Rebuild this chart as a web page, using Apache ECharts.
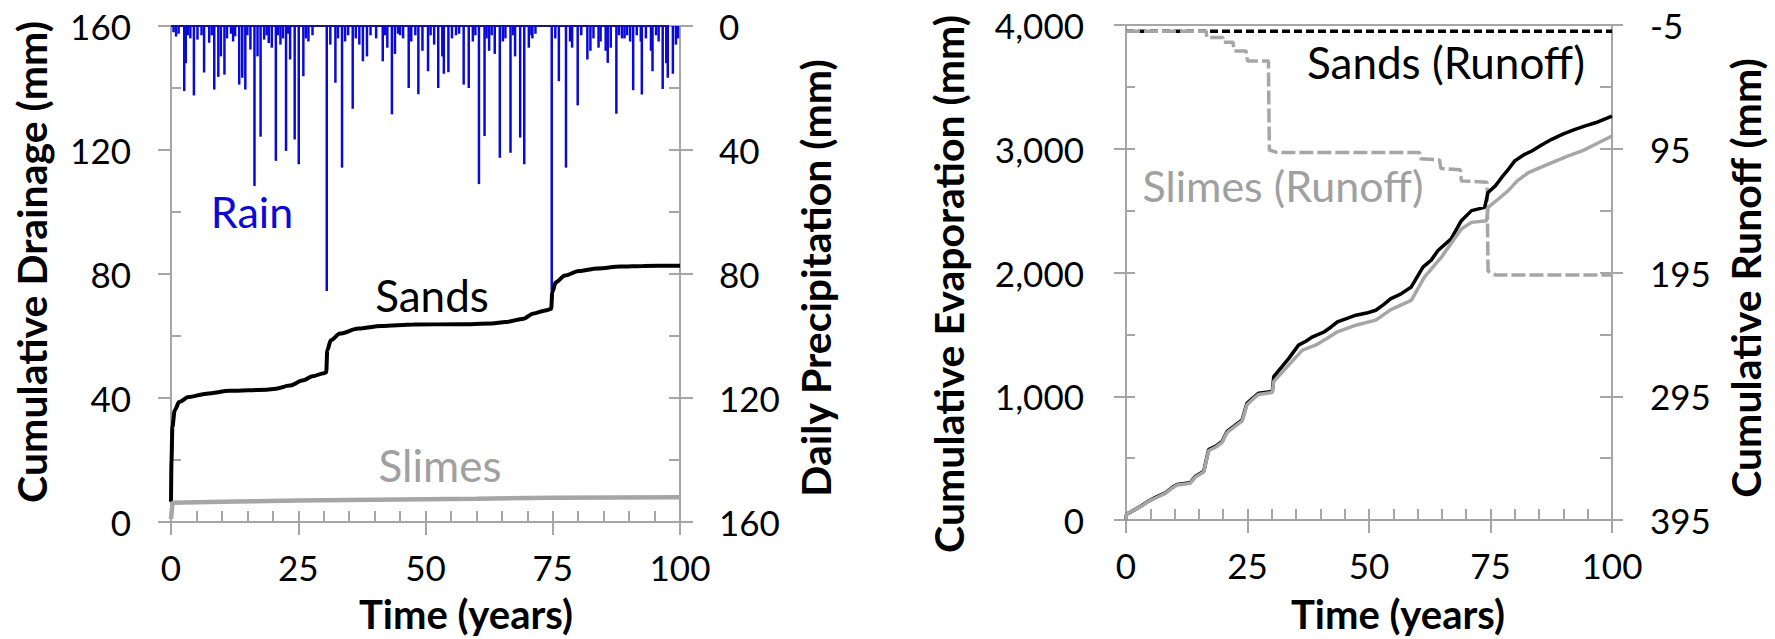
<!DOCTYPE html>
<html>
<head>
<meta charset="utf-8">
<script src="https://cdn.jsdelivr.net/npm/echarts@6/dist/echarts.min.js"></script>
<style>
html,body{margin:0;padding:0;background:#fff;}
#chart{width:1775px;height:639px;}
</style>
</head>
<body>
<div id="chart"></div>
<script>
// ---------- DATA ----------
const timeTicks = [0, 25, 50, 75, 100];
const drainageTicks = [0, 40, 80, 120, 160];
const precipTicks = [0, 40, 80, 120, 160];
const evapTicks = [0, 1000, 2000, 3000, 4000];
const runoffTicks = [-5, 95, 195, 295, 395];

// Daily precipitation spikes (years, mm)
const rainYears = [0.5,1.0,1.5,2.6,2.9,3.3,3.8,4.5,5.2,6.0,6.5,7.5,8.0,8.5,9.3,9.8,10.5,11.0,11.8,12.2,12.6,13.4,14.0,14.6,15.0,15.6,16.4,17.0,17.6,18.3,18.8,19.2,19.8,20.6,21.0,21.5,22.0,22.6,23.0,23.4,24.3,25.1,
  26.0,26.5,27.0,27.8,30.6,31.3,32.3,32.8,33.6,34.2,34.8,35.7,36.3,37.0,37.7,38.5,39.2,40.3,41.6,42.0,42.5,43.4,44.0,44.6,45.0,45.6,46.7,47.2,48.0,48.6,49.4,50.5,
  51.0,51.7,52.5,53.3,53.6,54.5,55.2,56.0,56.6,57.5,58.5,59.3,59.8,60.5,61.6,62.0,62.5,63.0,63.6,64.6,65.2,65.7,66.7,67.2,67.6,68.6,69.4,70.3,70.8,71.0,71.6,74.8,
  75.5,76.2,77.6,78.4,78.8,79.9,80.6,81.8,82.4,83.0,84.0,84.4,85.4,85.8,86.4,87.5,88.0,88.6,89.1,89.6,90.2,90.8,91.5,92.3,92.5,93.3,94.3,94.6,95.3,95.8,96.6,97.3,97.6,98.6,99.2,99.6];
const rainMm = [2,3.4,2.5,21,12,3,4,22.4,4.4,3,15,5.4,3,20.5,16.4,9.8,15.7,4,2.5,5,3.3,18.9,16.7,20.5,3,7.6,51.6,9.8,35.7,4.4,3,5.5,7,43.5,3,6,4,40.3,2.5,10.8,36.6,44.6,
  16.2,4,5,3,85.5,6,18.3,4,45.7,5,3,26.7,4,6,11.4,9.8,3,4,11.4,3,7,28.5,9,2.5,3,4,20,5,3,22,8,14.6,
  3,6,20,9.8,15.4,14.9,4,3,2.5,18.9,20,5,3,51,35.5,4,8,3,9,42.5,5,4,40.9,3,9.8,36,44.6,7,3,4,2.5,85.5,
  4,17.8,45.7,5,7,25.6,3,10.8,8,4,7,5,8,11.9,7,28.3,3,4,4,3,5,20.7,3,5,22.1,4,8,14.6,3,5,20.3,12,16.7,15.4,6,4];

// Cumulative drainage (mm)
const sandsDrainYears = [0,0.1,0.27,0.72,1.6,3.4,7,11.6,18.8,20.6,23.3,26,27.8,30.05,30.5,30.7,31.4,33.2,36.8,41.3,47.7,56.7,63,65.7,69.3,71.1,73.8,74.7,74.9,75.6,77.4,80.1,83.8,88.3,92.8,100];
const sandsDrain = [6.5,20,30.6,36,38.7,40.3,41.4,42.3,42.7,43,44,45.7,47,48,48.3,55.4,58.6,60.8,62.4,63.2,63.7,63.8,64,64.5,65.6,67.2,68.3,68.8,74.1,77.3,79.5,81,81.8,82.4,82.6,82.7];
const slimesDrainYears = [0,0.3,10,25,40,60,75,100];
const slimesDrain = [1,6.2,6.5,6.9,7.2,7.5,7.8,8.0];

// Cumulative evaporation (mm)
const sandsEvapYears = [0,0.1,1.9,3.2,4.6,6.2,8.1,9.4,10.5,13.2,14.3,16,17,18.6,19.8,20.8,22.3,23.9,24.9,26.2,27.3,30.1,30.4,32.1,33.5,35.5,37.0,38.4,40.8,42.2,43.5,45.5,47.3,49.5,51.4,53.0,54.5,56.5,58.7,61.1,62.8,64.2,66.9,69,71.1,73.8,74.5,76.0,77.3,78.8,80,81.8,83.5,85.5,87.6,90.0,92.4,94.5,96.6,100];
const sandsEvap = [0,46,86,115,153,185,220,260,287,301,354,394,569,600,636,716,760,810,944,990,1025,1038,1158,1240,1306,1413,1445,1480,1521,1560,1601,1630,1655,1672,1695,1740,1789,1825,1883,2044,2100,2178,2272,2419,2500,2526,2647,2700,2768,2840,2902,2950,2982,3030,3076,3120,3157,3185,3210,3264];
const slimesEvapYears = [0,0.1,1.9,3.2,4.6,6.2,8.1,9.4,10.5,13.2,14.3,16,17,18.6,19.8,20.8,22.3,23.9,24.9,26.2,27.3,30.1,30.4,33.5,36.3,39,41.5,43.5,47.3,51.4,54.5,58.7,61.4,64.9,67.0,69,71.1,74.2,74.5,76.5,78.6,80.5,82.8,86.9,91,94.0,96.6,100];
const slimesEvap = [0,46,86,112,150,180,215,255,282,296,348,388,560,592,628,708,752,800,932,980,1015,1030,1118,1253,1373,1413,1470,1521,1574,1615,1700,1775,1963,2124,2240,2352,2405,2419,2526,2590,2660,2740,2808,2875,2942,2985,3036,3103];

// Cumulative runoff (mm)
const sandsRunoffYears = [0,100];
const sandsRunoff = [0,0];
const slimesRunoffYears = [0,16.5,16.6,19.9,20.0,22.0,22.3,24.7,25.0,29.3,29.5,31,60.4,60.6,64.5,64.8,68.8,69.0,74.3,74.5,76,100];
const slimesRunoff = [0,0,5,5,9,9,16,16,24,24,96,98,98,103,104,111,112,121,122,194,197,197];

// ---------- CHART ----------
const zip = (xs, ys) => xs.map((x, i) => [x, ys[i]]);
const FONT = 'Lato';
const AX = '#a6a6a6';
const GRAY = '#a6a6a6';
const labelStyle = {fontFamily: FONT, fontSize: 35, color: '#000'};

function mainX(grid){
  return {type:'value', gridIndex:grid, position:'bottom', min:0, max:100, interval:25,
    axisLine:{show:true, onZero:false, lineStyle:{color:AX, width:2}},
    axisTick:{show:true, inside:false, length:13, lineStyle:{color:AX, width:2}},
    axisLabel:Object.assign({margin:27, customValues: timeTicks}, labelStyle),
    splitLine:{show:false}};
}
function overlayX(grid){
  return {type:'value', gridIndex:grid, position:'bottom', min:0, max:100, interval:25,
    axisLine:{show:false, onZero:false},
    axisTick:{show:true, inside:true, length:11, lineStyle:{color:AX, width:2}},
    minorTick:{show:true, splitNumber:5, length:11, lineStyle:{color:AX, width:2}},
    axisLabel:{show:false}, splitLine:{show:false}};
}
function topX(grid, color){
  return {type:'value', gridIndex:grid, position:'top', min:0, max:100,
    axisLine:{show:true, onZero:false, lineStyle:{color:color, width:2}},
    axisTick:{show:false}, axisLabel:{show:false}, splitLine:{show:false}};
}
function title(text, x, y, rot, size){
  return {type:'text', x:x, y:y, rotation:rot, style:{text:text, fontFamily:FONT, fontWeight:'bold', fontSize:size, fill:'#000', align:'center', verticalAlign:'middle'}};
}
function label(text, x, y, color, size){
  return {type:'text', x:x, y:y, style:{text:text, fontFamily:FONT, fontSize:size, fill:color, align:'center', verticalAlign:'middle'}};
}

const option = {
  animation:false,
  backgroundColor:'#fff',
  grid:[
    {left:171, top:26, width:509, height:496},
    {left:1126, top:25, width:486, height:495}
  ],
  xAxis:[
    mainX(0), overlayX(0), topX(0, '#1c1c5a'),
    mainX(1), overlayX(1), topX(1, AX)
  ],
  yAxis:[
    {type:'value', gridIndex:0, position:'left', min:0, max:160, interval:40,
     axisLine:{show:true, onZero:false, lineStyle:{color:AX, width:2}},
     axisTick:{show:true, inside:false, length:13, lineStyle:{color:AX, width:2}},
     axisLabel:Object.assign({margin:40, customValues: drainageTicks}, labelStyle), splitLine:{show:false}},
    {type:'value', gridIndex:0, position:'left', min:0, max:160,
     axisLine:{show:false, onZero:false},
     axisTick:{show:true, inside:true, length:10, customValues:[20,60,100,140], lineStyle:{color:AX, width:2}},
     axisLabel:{show:false}, splitLine:{show:false}},
    {type:'value', gridIndex:0, position:'right', min:0, max:160, interval:40, inverse:true,
     axisLine:{show:true, onZero:false, lineStyle:{color:AX, width:2}},
     axisTick:{show:true, inside:false, length:13, lineStyle:{color:AX, width:2}},
     axisLabel:Object.assign({margin:39, customValues: precipTicks}, labelStyle), splitLine:{show:false}},
    {type:'value', gridIndex:0, position:'right', min:0, max:160, interval:20, inverse:true,
     axisLine:{show:false, onZero:false},
     axisTick:{show:true, inside:true, length:11, lineStyle:{color:AX, width:2}},
     axisLabel:{show:false}, splitLine:{show:false}},
    {type:'value', gridIndex:1, position:'left', min:0, max:4000, interval:1000,
     axisLine:{show:true, onZero:false, lineStyle:{color:AX, width:2}},
     axisTick:{show:true, inside:false, length:12, lineStyle:{color:AX, width:2}},
     axisLabel:Object.assign({margin:42, customValues: evapTicks, formatter:(v)=>Number(v).toLocaleString('en-US')}, labelStyle), splitLine:{show:false}},
    {type:'value', gridIndex:1, position:'left', min:0, max:4000, interval:500,
     axisLine:{show:false, onZero:false},
     axisTick:{show:true, inside:true, length:9, lineStyle:{color:AX, width:2}},
     axisLabel:{show:false}, splitLine:{show:false}},
    {type:'value', gridIndex:1, position:'right', min:-5, max:395, inverse:true,
     axisLine:{show:true, onZero:false, lineStyle:{color:AX, width:2}},
     axisTick:{show:true, inside:false, length:11, customValues: runoffTicks, lineStyle:{color:AX, width:2}},
     axisLabel:Object.assign({margin:38, customValues: runoffTicks}, labelStyle), splitLine:{show:false}},
    {type:'value', gridIndex:1, position:'right', min:-5, max:395, inverse:true,
     axisLine:{show:false, onZero:false},
     axisTick:{show:true, inside:true, length:12, customValues:[-5,45,95,145,195,245,295,345,395], lineStyle:{color:AX, width:2}},
     axisLabel:{show:false}, splitLine:{show:false}}
  ],
  series:[
    {name:'Rain', type:'bar', xAxisIndex:0, yAxisIndex:2, data:zip(rainYears, rainMm),
     barWidth:2.5, itemStyle:{color:'#0a0ad8'}},
    {name:'Sands', type:'line', xAxisIndex:0, yAxisIndex:0, data:zip(sandsDrainYears, sandsDrain),
     showSymbol:false, smooth:0.3, smoothMonotone:'x', lineStyle:{color:'#000', width:4}},
    {name:'Slimes', type:'line', xAxisIndex:0, yAxisIndex:0, data:zip(slimesDrainYears, slimesDrain),
     showSymbol:false, lineStyle:{color:GRAY, width:4.5}},
    {name:'Sands (Runoff)', type:'line', xAxisIndex:3, yAxisIndex:6, data:zip(sandsRunoffYears, sandsRunoff),
     showSymbol:false, lineStyle:{color:'#000', width:3.5, type:[8,4]}},
    {name:'Slimes (Runoff)', type:'line', xAxisIndex:3, yAxisIndex:6, data:zip(slimesRunoffYears, slimesRunoff),
     showSymbol:false, lineStyle:{color:GRAY, width:3.5, type:[14,4]}},
    {name:'Sands (Evaporation)', type:'line', xAxisIndex:3, yAxisIndex:4, data:zip(sandsEvapYears, sandsEvap),
     showSymbol:false, lineStyle:{color:'#000', width:3.5}},
    {name:'Slimes (Evaporation)', type:'line', xAxisIndex:3, yAxisIndex:4, data:zip(slimesEvapYears, slimesEvap),
     showSymbol:false, lineStyle:{color:GRAY, width:3.5}}
  ],
  graphic:[
    title('Cumulative Drainage (mm)', 31, 262, Math.PI/2, 41),
    title('Daily Precipitation (mm)', 815, 278, Math.PI/2, 41),
    title('Cumulative Evaporation (mm)', 948, 284, Math.PI/2, 41),
    title('Cumulative Runoff (mm)', 1745, 278, Math.PI/2, 41),
    title('Time (years)', 466, 614, 0, 40),
    title('Time (years)', 1398, 614, 0, 40),
    label('Rain', 252, 211, '#0a0ad8', 43),
    label('Sands', 432, 295, '#000', 44),
    label('Slimes', 440, 465, '#a0a0a0', 44),
    label('Sands (Runoff)', 1446, 62, '#000', 44),
    label('Slimes (Runoff)', 1283, 185, '#a0a0a0', 43)
  ]
};

const chart = echarts.init(document.getElementById('chart'), null, {renderer:'svg', width:1775, height:639});
chart.setOption(option);
</script>
</body>
</html>
